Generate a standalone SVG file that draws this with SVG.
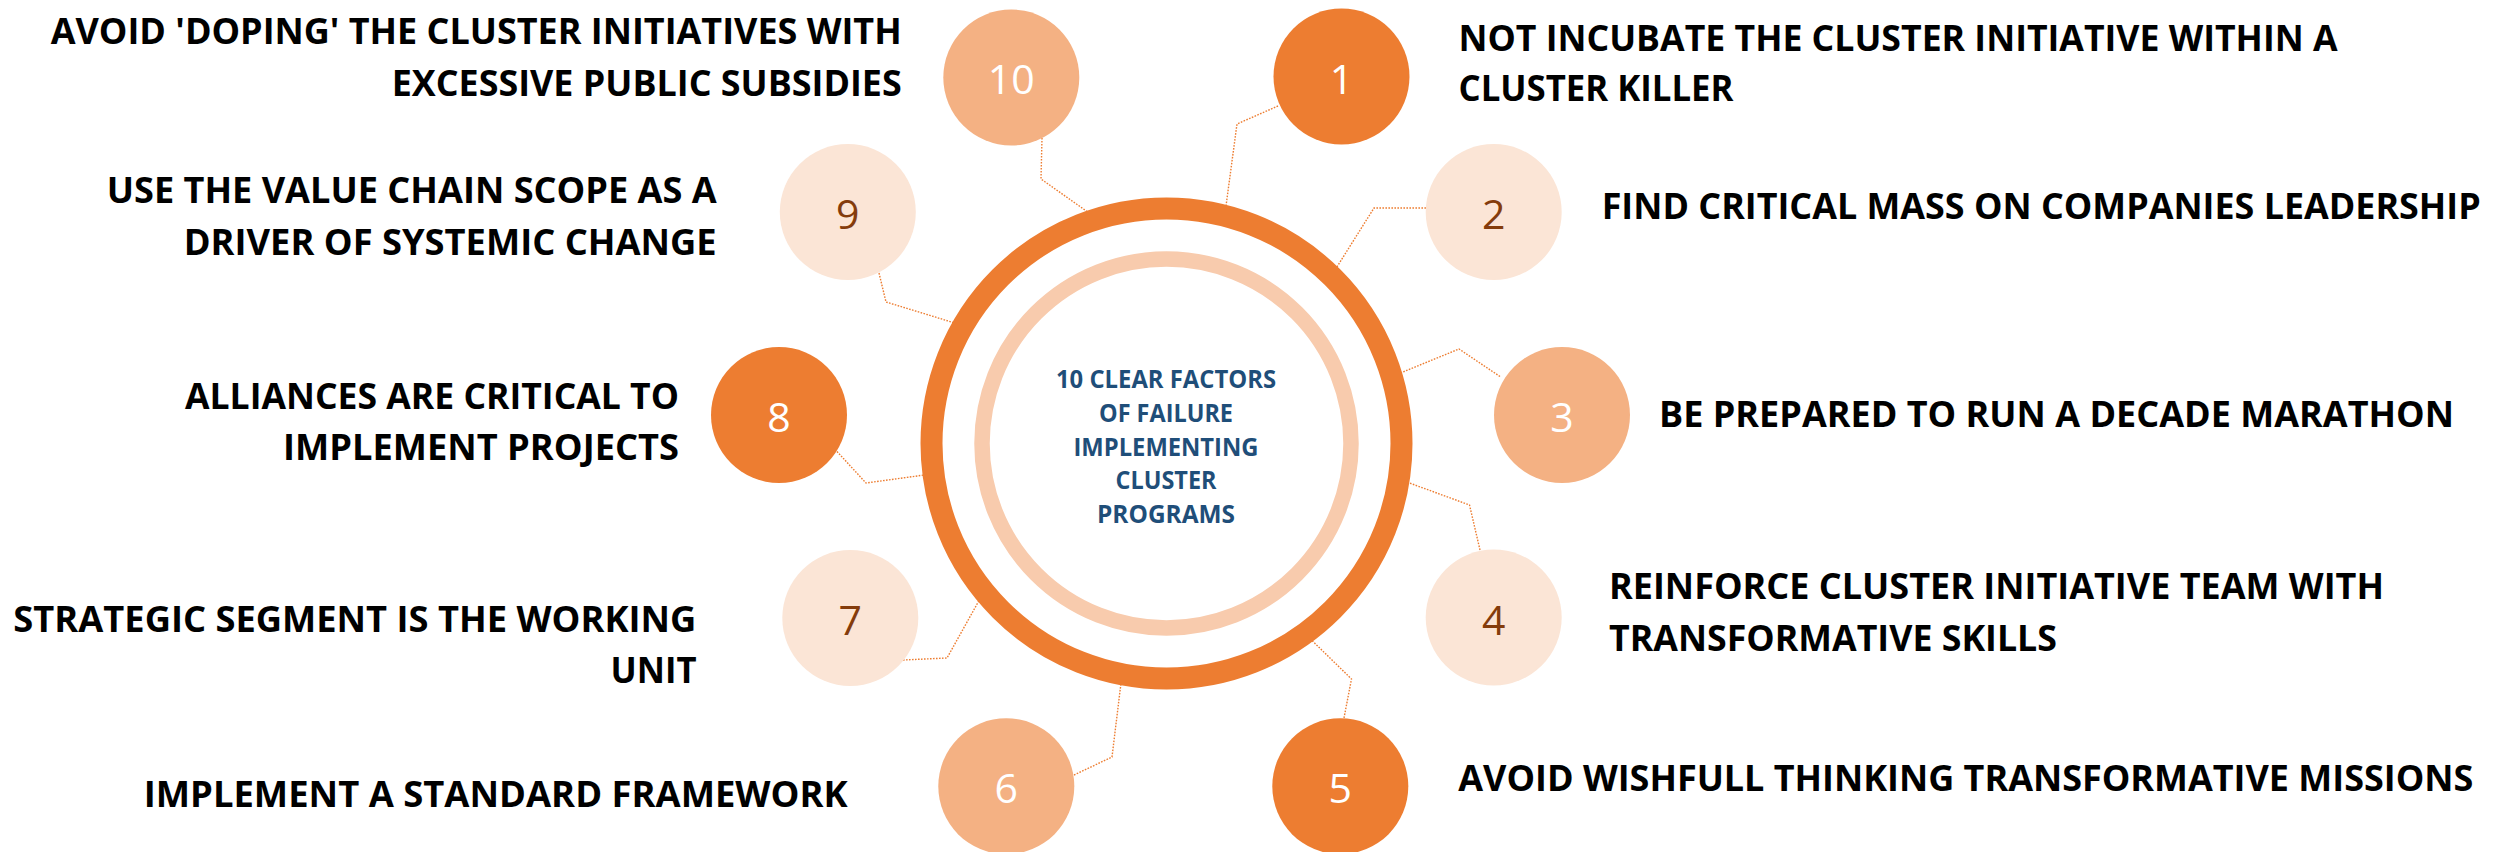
<svg xmlns="http://www.w3.org/2000/svg" width="2501" height="852" viewBox="0 0 2501 852">
<style>
.lbl{font-family:"Open Sans","Noto Sans",sans-serif;font-weight:700;font-size:36px;fill:#000}
.num{font-family:"Open Sans","Noto Sans",sans-serif;font-weight:400;font-size:41px;text-anchor:middle}
.w{fill:#FFFFFF}
.b{fill:#843C0C}
.dark{fill:#ED7D31}
.mid{fill:#F4B183}
.light{fill:#FBE5D6}
.conn{fill:none;stroke:#ED7D31;stroke-width:1.4;stroke-dasharray:1.6 1.4}
.ctr{font-family:"Open Sans","Noto Sans",sans-serif;font-weight:700;font-size:25px;fill:#1F4E79;text-anchor:middle}
</style>
<rect x="0" y="0" width="2501" height="852" fill="#FFFFFF"/>
<g id="connectors">
<path class="conn" d="M1042,138 L1041,179 L1092,215"/>
<path class="conn" d="M879,273 L886,302 L958,324"/>
<path class="conn" d="M1278,106 L1237,124 L1226,206"/>
<path class="conn" d="M1426,208 L1374,208 L1335,270"/>
<path class="conn" d="M1500,376.5 L1459,349 L1398,374"/>
<path class="conn" d="M1480,550 L1469.5,505 L1404,481"/>
<path class="conn" d="M1344,718 L1351.5,679 L1293,622"/>
<path class="conn" d="M1074,775 L1112,757 L1121,683"/>
<path class="conn" d="M903,660 L947,658 L981,597"/>
<path class="conn" d="M837,451.5 L866,483 L928,474.5"/>
</g>
<g id="center">
<circle cx="1166.5" cy="443.5" r="235" fill="#FFFFFF" stroke="#ED7D31" stroke-width="22"/>
<circle cx="1166.5" cy="443.5" r="184.5" fill="#FFFFFF" stroke="#F8CBAD" stroke-width="15.5"/>
<text class="ctr" x="1166" y="388" textLength="220" lengthAdjust="spacingAndGlyphs">10 CLEAR FACTORS</text>
<text class="ctr" x="1166" y="422" textLength="134" lengthAdjust="spacingAndGlyphs">OF FAILURE</text>
<text class="ctr" x="1166" y="455.5" textLength="185" lengthAdjust="spacingAndGlyphs">IMPLEMENTING</text>
<text class="ctr" x="1166" y="489" textLength="101" lengthAdjust="spacingAndGlyphs">CLUSTER</text>
<text class="ctr" x="1166" y="522.5" textLength="138" lengthAdjust="spacingAndGlyphs">PROGRAMS</text>
</g>
<g id="node1">
<circle class="dark" cx="1341.5" cy="76.5" r="68"/>
<text class="num w" x="1341.5" y="93.5">1</text>
<text class="lbl" x="1458.5" y="51" textLength="879" lengthAdjust="spacingAndGlyphs">NOT INCUBATE THE CLUSTER INITIATIVE WITHIN A</text>
<text class="lbl" x="1458.5" y="100.7" textLength="275" lengthAdjust="spacingAndGlyphs">CLUSTER KILLER</text>
</g>
<g id="node2">
<circle class="light" cx="1493.7" cy="212" r="68"/>
<text class="num b" x="1493.7" y="229">2</text>
<text class="lbl" x="1601.7" y="219.3" textLength="879" lengthAdjust="spacingAndGlyphs">FIND CRITICAL MASS ON COMPANIES LEADERSHIP</text>
</g>
<g id="node3">
<circle class="mid" cx="1562" cy="415" r="68"/>
<text class="num w" x="1562" y="432">3</text>
<text class="lbl" x="1659" y="426.6" textLength="795" lengthAdjust="spacingAndGlyphs">BE PREPARED TO RUN A DECADE MARATHON</text>
</g>
<g id="node4">
<circle class="light" cx="1493.7" cy="617.5" r="68"/>
<text class="num b" x="1493.7" y="634.5">4</text>
<text class="lbl" x="1609" y="598.5" textLength="775" lengthAdjust="spacingAndGlyphs">REINFORCE CLUSTER INITIATIVE TEAM WITH</text>
<text class="lbl" x="1609" y="650.5" textLength="448" lengthAdjust="spacingAndGlyphs">TRANSFORMATIVE SKILLS</text>
</g>
<g id="node5">
<circle class="dark" cx="1340.3" cy="786.3" r="68"/>
<text class="num w" x="1340.3" y="803.3">5</text>
<text class="lbl" x="1458.3" y="791" textLength="1015" lengthAdjust="spacingAndGlyphs">AVOID WISHFULL THINKING TRANSFORMATIVE MISSIONS</text>
</g>
<g id="node6">
<circle class="mid" cx="1006.3" cy="786.3" r="68"/>
<text class="num w" x="1006.3" y="803.3">6</text>
<text class="lbl" x="847.7" y="806.7" text-anchor="end" textLength="704" lengthAdjust="spacingAndGlyphs">IMPLEMENT A STANDARD FRAMEWORK</text>
</g>
<g id="node7">
<circle class="light" cx="850.3" cy="618" r="68"/>
<text class="num b" x="850.3" y="635">7</text>
<text class="lbl" x="696.3" y="631.7" text-anchor="end" textLength="683" lengthAdjust="spacingAndGlyphs">STRATEGIC SEGMENT IS THE WORKING</text>
<text class="lbl" x="696.5" y="683.3" text-anchor="end" textLength="86" lengthAdjust="spacingAndGlyphs">UNIT</text>
</g>
<g id="node8">
<circle class="dark" cx="779" cy="415" r="68"/>
<text class="num w" x="779" y="432">8</text>
<text class="lbl" x="679" y="409.3" text-anchor="end" textLength="494" lengthAdjust="spacingAndGlyphs">ALLIANCES ARE CRITICAL TO</text>
<text class="lbl" x="679" y="460" text-anchor="end" textLength="396" lengthAdjust="spacingAndGlyphs">IMPLEMENT PROJECTS</text>
</g>
<g id="node9">
<circle class="light" cx="847.8" cy="212" r="68"/>
<text class="num b" x="847.8" y="229.3">9</text>
<text class="lbl" x="716.7" y="203.3" text-anchor="end" textLength="610" lengthAdjust="spacingAndGlyphs">USE THE VALUE CHAIN SCOPE AS A</text>
<text class="lbl" x="716.7" y="255" text-anchor="end" textLength="533" lengthAdjust="spacingAndGlyphs">DRIVER OF SYSTEMIC CHANGE</text>
</g>
<g id="node10">
<circle class="mid" cx="1011.3" cy="77.5" r="68"/>
<text class="num w" x="1011.3" y="94.3">10</text>
<text class="lbl" x="901.7" y="44" text-anchor="end" textLength="851" lengthAdjust="spacingAndGlyphs">AVOID 'DOPING' THE CLUSTER INITIATIVES WITH</text>
<text class="lbl" x="901.7" y="96" text-anchor="end" textLength="510" lengthAdjust="spacingAndGlyphs">EXCESSIVE PUBLIC SUBSIDIES</text>
</g>
</svg>
